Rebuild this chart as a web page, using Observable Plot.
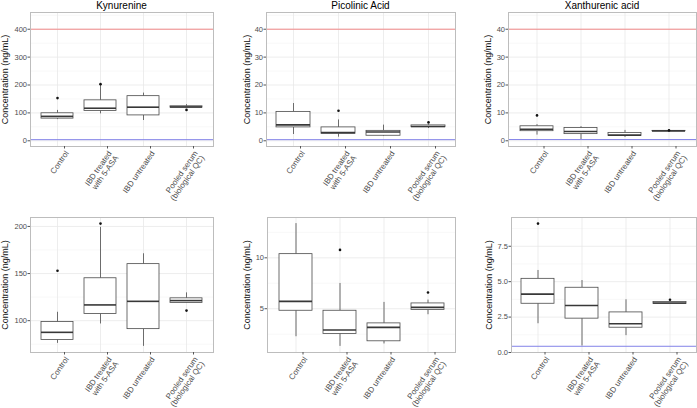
<!DOCTYPE html>
<html><head><meta charset="utf-8">
<script src="https://cdn.jsdelivr.net/npm/d3@7"></script>
<script src="https://cdn.jsdelivr.net/npm/@observablehq/plot@0.6"></script>
<style>
body{margin:0;background:#fff;font-family:"Liberation Sans",Arial,sans-serif;}
#root{position:relative;width:697px;height:408px;overflow:hidden;}
.ttl{position:absolute;top:0;font-size:10px;line-height:12px;text-align:center;color:#000;white-space:nowrap;}
</style></head><body><div id="root"></div>
<script>
// ---------- data ----------
const groups = ["Control", "IBD treated with 5-ASA", "IBD untreated", "Pooled serum (biological QC)"];
const groupLabels = ["Control", "IBD treated\nwith 5-ASA", "IBD untreated", "Pooled serum\n(biological QC)"];
const analytes = ["Kynurenine", "Picolinic Acid", "Xanthurenic acid"];
const yTitle = "Concentration (ng/mL)";

// Kynurenine (ng/mL)
const kynWhiskerLow  = [75.9, 96.5, 72.7, 118.5];
const kynQ1          = [79.5, 107.0, 91.0, 118.8];
const kynMedian      = [87.6, 116.7, 120.5, 121.3];
const kynQ3          = [98.6, 145.0, 160.0, 123.7];
const kynWhiskerHigh = [108.9, 199.0, 171.0, 129.5];
const kynOutlierGroup = [0, 1, 3];
const kynOutlierValue = [153, 203, 110.7];

// Picolinic acid (ng/mL)
const picWhiskerLow  = [2.25, 1.30, 1.54, 4.41];
const picQ1          = [4.80, 2.52, 1.80, 4.87];
const picMedian      = [5.72, 2.91, 3.17, 5.13];
const picQ3          = [10.36, 4.80, 3.56, 5.52];
const picWhiskerHigh = [13.36, 7.48, 5.62, 5.85];
const picOutlierGroup = [1, 3];
const picOutlierValue = [10.78, 6.6];

// Xanthurenic acid (ng/mL)
const xanWhiskerLow  = [2.03, 0.46, 1.19, 3.40];
const xanQ1          = [3.44, 2.39, 1.75, 3.42];
const xanMedian      = [4.12, 3.32, 2.03, 3.49];
const xanQ3          = [5.20, 4.57, 2.83, 3.56];
const xanWhiskerHigh = [5.79, 5.08, 3.72, 3.58];
const xanOutlierGroup = [0, 3];
const xanOutlierValue = [9.1, 3.72];

// quantification limits
const upperLimit = [400, 40, 40];
const lowerLimit = [4, 0.4, 0.44];

// axis ticks
const topTicks = [[0, 100, 200, 300, 400], [0, 10, 20, 30, 40], [0, 10, 20, 30, 40]];
const bottomTicks = [[100, 150, 200], [5, 10], [0, 2.5, 5, 7.5]];
const topDomains = [[-20.5, 460], [-2.05, 46], [-2.05, 46]];
const bottomDomains = [[66.2, 209.5], [0.7, 13.96], [0, 9.53]];
const bottomFormats = [d3.format("d"), d3.format("d"), d3.format(".1f")];

// ---------- layout (not data) ----------
const layoutTop = [
  {left: 0,   width: 230, ml: 30, mr: 17, tdx: -25},
  {left: 230, width: 230, ml: 36, mr: 5,  tdx: -19.5},
  {left: 460, width: 237, ml: 48, mr: 1,  tdx: -20}
];
const layoutBottom = [
  {left: 0,   width: 230, ml: 30, mr: 17, tdx: -25},
  {left: 230, width: 230, ml: 37, mr: 5,  tdx: -20},
  {left: 460, width: 237, ml: 51, mr: 1,  tdx: -22.5}
];

const boxes = [
  {lo: kynWhiskerLow, q1: kynQ1, med: kynMedian, q3: kynQ3, hi: kynWhiskerHigh, og: kynOutlierGroup, ov: kynOutlierValue},
  {lo: picWhiskerLow, q1: picQ1, med: picMedian, q3: picQ3, hi: picWhiskerHigh, og: picOutlierGroup, ov: picOutlierValue},
  {lo: xanWhiskerLow, q1: xanQ1, med: xanMedian, q3: xanQ3, hi: xanWhiskerHigh, og: xanOutlierGroup, ov: xanOutlierValue}
];

function minorOf(ticks) {
  const step = ticks[1] - ticks[0];
  const out = [ticks[0] - step / 2];
  ticks.forEach(t => out.push(t + step / 2));
  return out;
}

function panel(k, ticks, domain, fmt, L, top, height, mt, mb) {
  const b = boxes[k];
  const rows = groups.map((g, i) => ({g, lo: b.lo[i], q1: b.q1[i], med: b.med[i], q3: b.q3[i], hi: b.hi[i]}));
  const outs = b.og.map((gi, j) => ({g: groups[gi], v: b.ov[j]}));
  const svg = Plot.plot({
    width: L.width, height,
    marginLeft: L.ml, marginRight: L.mr, marginTop: mt, marginBottom: mb,
    style: {fontFamily: "'Liberation Sans', Arial, sans-serif", background: "transparent", overflow: "visible"},
    x: {type: "band", domain: groups, paddingInner: 0.25, paddingOuter: 0.225},
    y: {domain},
    marks: [
      Plot.ruleY(minorOf(ticks), {stroke: "#f3f3f3", strokeWidth: 0.6, clip: true}),
      Plot.ruleY(ticks, {stroke: "#e9e9e9", strokeWidth: 0.8, clip: true}),
      Plot.ruleX(groups, {stroke: "#e9e9e9", strokeWidth: 0.8}),
      Plot.ruleY([upperLimit[k]], {stroke: "#f28a8a", strokeWidth: 1, clip: true}),
      Plot.ruleY([lowerLimit[k]], {stroke: "#8383e8", strokeWidth: 1, clip: true}),
      Plot.ruleX(rows, {x: "g", y1: "lo", y2: "q1", stroke: "#4a4a4a", strokeWidth: 0.8}),
      Plot.ruleX(rows, {x: "g", y1: "q3", y2: "hi", stroke: "#4a4a4a", strokeWidth: 0.8}),
      Plot.barY(rows, {x: "g", y1: "q1", y2: "q3", fill: "white", stroke: "#4a4a4a", strokeWidth: 0.8}),
      Plot.tickY(rows, {x: "g", y: "med", stroke: "#383838", strokeWidth: 1.6}),
      Plot.dot(outs, {x: "g", y: "v", r: 1.3, fill: "#111", stroke: "none"}),
      Plot.frame({stroke: "#bdbdbd", strokeWidth: 1}),
      Plot.axisY({ticks, tickFormat: fmt, tickSize: 2.5, tickPadding: 1, fontSize: 7.5, stroke: "#555", fill: "#4d4d4d", label: null}),
      Plot.axisX({tickSize: 2.5, tickPadding: 1, tickRotate: -55, textAnchor: "end", lineAnchor: "top",
        tickFormat: d => groupLabels[groups.indexOf(d)], fontSize: 8, stroke: "#555", fill: "#4d4d4d", label: null, dx: 7}),
      Plot.text([yTitle], {frameAnchor: "left", textAnchor: "middle", lineAnchor: "middle", rotate: -90, dx: L.tdx, fontSize: 9, fill: "#111"})
    ]
  });
  svg.style.position = "absolute";
  svg.style.left = L.left + "px";
  svg.style.top = top + "px";
  return svg;
}

const root = document.getElementById("root");
for (let k = 0; k < 3; k++) {
  root.appendChild(panel(k, topTicks[k], topDomains[k], d3.format("d"), layoutTop[k], 0, 200, 12, 54));
}
for (let k = 0; k < 3; k++) {
  root.appendChild(panel(k, bottomTicks[k], bottomDomains[k], bottomFormats[k], layoutBottom[k], 200, 208, 17, 56));
}
for (let k = 0; k < 3; k++) {
  const L = layoutTop[k];
  const d = document.createElement("div");
  d.className = "ttl";
  d.textContent = analytes[k];
  const cx = L.left + L.ml + (L.width - L.ml - L.mr) / 2;
  d.style.left = (cx - 60) + "px";
  d.style.width = "120px";
  root.appendChild(d);
}
</script>
</body></html>
